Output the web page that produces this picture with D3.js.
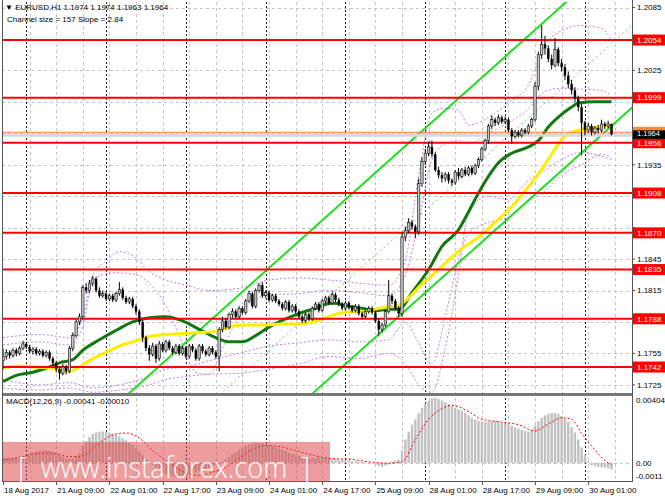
<!DOCTYPE html>
<html>
<head>
<meta charset="utf-8">
<script src="https://cdn.jsdelivr.net/npm/d3@7"></script>
<style>
html, body { margin: 0; padding: 0; background: #fff; }
svg { display: block; font-family: "Liberation Sans", Arial, sans-serif; }
</style>
</head>
<body>
<div id="chart"></div>
<script>
// EURUSD H1 candles, MAs, bands, regression channel, MACD
var headerText = "EURUSD,H1  1.1974 1.1974 1.1963 1.1964";
var channelText = "Channel size = 157 Slope = 2.84";
var macdText = "MACD(12,26,9) -0.00041 -0.00010";
var watermarkText = "[\u00A0\u00A0www.instaforex.com\u00A0\u00A0]";

var opens = [
  1.1748,1.1752,1.1756,1.1753,1.1758,1.1755,1.1760,1.1764,
  1.1761,1.1757,1.1759,1.1755,1.1757,1.1753,1.1756,1.1750,
  1.1746,1.1740,1.1736,1.1742,1.1738,1.1760,1.1772,1.1785,
  1.1790,1.1818,1.1815,1.1822,1.1826,1.1815,1.1810,1.1812,
  1.1807,1.1810,1.1806,1.1812,1.1816,1.1808,1.1804,1.1807,
  1.1800,1.1795,1.1785,1.1770,1.1760,1.1754,1.1762,1.1750,
  1.1764,1.1758,1.1766,1.1760,1.1756,1.1762,1.1755,1.1760,
  1.1752,1.1762,1.1758,1.1750,1.1762,1.1757,1.1754,1.1760,
  1.1756,1.1752,1.1778,1.1786,1.1780,1.1792,1.1795,1.1790,
  1.1798,1.1794,1.1805,1.1812,1.1800,1.1815,1.1820,1.1810,
  1.1813,1.1806,1.1810,1.1805,1.1802,1.1798,1.1804,1.1796,
  1.1800,1.1795,1.1790,1.1786,1.1792,1.1788,1.1798,1.1802,
  1.1796,1.1805,1.1808,1.1803,1.1811,1.1806,1.1802,1.1798,
  1.1803,1.1799,1.1796,1.1800,1.1793,1.1790,1.1795,1.1798,
  1.1794,1.1786,1.1778,1.1782,1.1795,1.1810,1.1805,1.1798,
  1.1793,1.1866,1.1872,1.1880,1.1876,1.1871,1.1917,1.1938,
  1.1946,1.1952,1.1945,1.1930,1.1925,1.1922,1.1926,1.1920,
  1.1918,1.1928,1.1924,1.1930,1.1926,1.1932,1.1927,1.1934,
  1.1940,1.1950,1.1958,1.1972,1.1978,1.1975,1.1980,1.1976,
  1.1978,1.1968,1.1962,1.1966,1.1963,1.1968,1.1966,1.1972,
  1.1978,1.2010,1.2040,1.2050,1.2046,1.2036,1.2030,1.2045,
  1.2032,1.2028,1.2020,1.2012,1.2006,1.1998,1.1990,1.1975,
  1.1968,1.1972,1.1966,1.1970,1.1968,1.1974,1.1972,1.1974
];
var highs = [
  1.1760,1.1759,1.1758,1.1760,1.1760,1.1762,1.1767,1.1766,
  1.1763,1.1761,1.1761,1.1759,1.1759,1.1758,1.1758,1.1752,
  1.1748,1.1743,1.1745,1.1744,1.1762,1.1775,1.1787,1.1793,
  1.1820,1.1822,1.1825,1.1829,1.1828,1.1818,1.1815,1.1814,
  1.1812,1.1812,1.1814,1.1823,1.1818,1.1810,1.1809,1.1809,
  1.1802,1.1797,1.1787,1.1772,1.1763,1.1765,1.1764,1.1767,
  1.1766,1.1768,1.1768,1.1762,1.1764,1.1764,1.1762,1.1762,
  1.1764,1.1764,1.1760,1.1764,1.1764,1.1759,1.1762,1.1762,
  1.1758,1.1780,1.1790,1.1788,1.1794,1.1798,1.1797,1.1800,
  1.1800,1.1807,1.1815,1.1814,1.1817,1.1822,1.1823,1.1815,
  1.1815,1.1812,1.1812,1.1807,1.1804,1.1806,1.1806,1.1802,
  1.1802,1.1797,1.1792,1.1794,1.1794,1.1800,1.1804,1.1804,
  1.1807,1.1810,1.1810,1.1814,1.1813,1.1808,1.1804,1.1805,
  1.1805,1.1801,1.1802,1.1802,1.1795,1.1797,1.1800,1.1800,
  1.1796,1.1788,1.1784,1.1797,1.1825,1.1812,1.1807,1.1800,
  1.1870,1.1876,1.1884,1.1882,1.1878,1.1922,1.1942,1.1950,
  1.1957,1.1958,1.1947,1.1933,1.1928,1.1928,1.1928,1.1922,
  1.1930,1.1932,1.1932,1.1933,1.1934,1.1934,1.1936,1.1942,
  1.1952,1.1960,1.1974,1.1982,1.1980,1.1983,1.1982,1.1981,
  1.1980,1.1970,1.1968,1.1968,1.1970,1.1970,1.1974,1.1980,
  1.2014,1.2043,1.2068,1.2058,1.2049,1.2040,1.2056,1.2047,
  1.2036,1.2031,1.2024,1.2016,1.2009,1.2001,1.1993,1.1977,
  1.1975,1.1974,1.1972,1.1973,1.1978,1.1976,1.1977,1.1974
];
var lows = [
  1.1740,1.1749,1.1750,1.1751,1.1752,1.1753,1.1758,1.1759,
  1.1755,1.1754,1.1753,1.1753,1.1751,1.1751,1.1748,1.1743,
  1.1737,1.1730,1.1734,1.1735,1.1736,1.1757,1.1770,1.1782,
  1.1788,1.1812,1.1813,1.1819,1.1813,1.1808,1.1808,1.1805,
  1.1805,1.1804,1.1804,1.1810,1.1806,1.1802,1.1802,1.1798,
  1.1792,1.1782,1.1766,1.1757,1.1748,1.1752,1.1746,1.1748,
  1.1756,1.1756,1.1758,1.1754,1.1754,1.1753,1.1753,1.1750,
  1.1750,1.1756,1.1748,1.1748,1.1755,1.1752,1.1752,1.1754,
  1.1750,1.1738,1.1775,1.1778,1.1778,1.1789,1.1788,1.1788,
  1.1792,1.1792,1.1803,1.1798,1.1798,1.1813,1.1808,1.1808,
  1.1804,1.1804,1.1803,1.1800,1.1796,1.1796,1.1794,1.1794,
  1.1793,1.1788,1.1784,1.1784,1.1786,1.1786,1.1796,1.1794,
  1.1794,1.1803,1.1801,1.1801,1.1804,1.1800,1.1796,1.1796,
  1.1797,1.1794,1.1794,1.1791,1.1788,1.1788,1.1793,1.1792,
  1.1784,1.1772,1.1775,1.1780,1.1793,1.1802,1.1796,1.1790,
  1.1790,1.1862,1.1870,1.1873,1.1865,1.1868,1.1914,1.1935,
  1.1943,1.1942,1.1928,1.1922,1.1918,1.1919,1.1917,1.1915,
  1.1916,1.1921,1.1922,1.1924,1.1924,1.1925,1.1925,1.1932,
  1.1938,1.1948,1.1955,1.1969,1.1972,1.1973,1.1974,1.1974,
  1.1966,1.1955,1.1960,1.1961,1.1961,1.1964,1.1964,1.1970,
  1.1976,1.2006,1.2036,1.2040,1.2033,1.2026,1.2028,1.2029,
  1.2024,1.2016,1.2008,1.2002,1.1995,1.1986,1.1944,1.1963,
  1.1965,1.1963,1.1964,1.1965,1.1966,1.1969,1.1970,1.1963
];
var closes = [
  1.1752,1.1756,1.1753,1.1758,1.1755,1.1760,1.1764,1.1761,
  1.1757,1.1759,1.1755,1.1757,1.1753,1.1756,1.1750,1.1746,
  1.1740,1.1736,1.1742,1.1738,1.1760,1.1772,1.1785,1.1790,
  1.1818,1.1815,1.1822,1.1826,1.1815,1.1810,1.1812,1.1807,
  1.1810,1.1806,1.1812,1.1816,1.1808,1.1804,1.1807,1.1800,
  1.1795,1.1785,1.1770,1.1760,1.1754,1.1762,1.1750,1.1764,
  1.1758,1.1766,1.1760,1.1756,1.1762,1.1755,1.1760,1.1752,
  1.1762,1.1758,1.1750,1.1762,1.1757,1.1754,1.1760,1.1756,
  1.1752,1.1778,1.1786,1.1780,1.1792,1.1795,1.1790,1.1798,
  1.1794,1.1805,1.1812,1.1800,1.1815,1.1820,1.1810,1.1813,
  1.1806,1.1810,1.1805,1.1802,1.1798,1.1804,1.1796,1.1800,
  1.1795,1.1790,1.1786,1.1792,1.1788,1.1798,1.1802,1.1796,
  1.1805,1.1808,1.1803,1.1811,1.1806,1.1802,1.1798,1.1803,
  1.1799,1.1796,1.1800,1.1793,1.1790,1.1795,1.1798,1.1794,
  1.1786,1.1778,1.1782,1.1795,1.1810,1.1805,1.1798,1.1793,
  1.1866,1.1872,1.1880,1.1876,1.1871,1.1917,1.1938,1.1946,
  1.1952,1.1945,1.1930,1.1925,1.1922,1.1926,1.1920,1.1918,
  1.1928,1.1924,1.1930,1.1926,1.1932,1.1927,1.1934,1.1940,
  1.1950,1.1958,1.1972,1.1978,1.1975,1.1980,1.1976,1.1978,
  1.1968,1.1962,1.1966,1.1963,1.1968,1.1966,1.1972,1.1978,
  1.2010,1.2040,1.2050,1.2046,1.2036,1.2030,1.2045,1.2032,
  1.2028,1.2020,1.2012,1.2006,1.1998,1.1990,1.1975,1.1968,
  1.1972,1.1966,1.1970,1.1968,1.1974,1.1972,1.1974,1.1964
];

// moving averages: [bar, price]
var maGreen = [[0,1.1728],[4,1.1734],[9,1.1737],[14,1.1742],[17,1.1746],[21,1.1749],[24,1.1758],[29,1.1768],
  [34,1.1777],[39,1.1785],[44,1.1789],[49,1.1790],[54,1.1786],[59,1.1778],[64,1.1770],[68,1.1766],[72,1.1766],
  [76,1.1772],[81,1.1782],[85,1.1788],[89,1.1793],[94,1.1798],[99,1.1803],[104,1.1800],[108,1.1798],[112,1.1796],
  [116,1.1797],[119,1.1797],[123,1.1813],[128,1.1835],[132,1.1857],[137,1.1873],[140,1.1890],[143,1.1908],
  [146,1.1924],[149,1.1937],[153,1.1946],[158,1.1952],[161,1.1958],[164,1.1971],[168,1.1983],[171,1.1990],
  [173,1.1994],[178,1.1995],[183,1.1995]];
var maYellow = [[0,1.1741],[4,1.1743],[9,1.1742],[14,1.1741],[17,1.1739],[20,1.1738],[23,1.1742],[27,1.1750],
  [31,1.1756],[35,1.1762],[40,1.1767],[44,1.1771],[49,1.1773],[54,1.1774],[59,1.1775],[64,1.1776],[68,1.1780],
  [72,1.1782],[78,1.1782],[84,1.1783],[90,1.1783],[93,1.1785],[97,1.1789],[101,1.1793],[105,1.1795],[109,1.1795],
  [113,1.1798],[119,1.1801],[122,1.1808],[125,1.1818],[130,1.1832],[134,1.1844],[138,1.1855],[143,1.1866],
  [148,1.1880],[153,1.1895],[158,1.1914],[161,1.1926],[164,1.1940],[168,1.1959],[171,1.1966],[177,1.1970],
  [183,1.1973]];

// band lines (violet dotted)
var bandUpperOuter = [[0,1.1770],[11,1.1773],[20,1.1770],[24,1.1790],[27,1.1830],[31,1.1843],[35,1.1852],[40,1.1846],
  [44,1.1833],[49,1.1825],[55,1.1820],[62,1.1815],[71,1.1817],[80,1.1825],[89,1.1827],[98,1.1825],[107,1.1822],
  [116,1.1820],[121,1.1844],[125,1.1925],[129,1.1984],[133,1.1989],[137,1.1987],[140,1.1973],[146,1.1980],
  [152,1.1994],[158,1.2011],[163,1.2049],[168,1.2063],[174,1.2068],[180,1.2065],[183,1.2054]];
var bandUpperInner = [[0,1.1763],[11,1.1766],[20,1.1763],[24,1.1780],[27,1.1825],[33,1.1832],[40,1.1830],[44,1.1822],
  [49,1.1800],[53,1.1772],[58,1.1737],[62,1.1735],[66,1.1760],[71,1.1790],[80,1.1811],[89,1.1812],[98,1.1815],
  [107,1.1813],[116,1.1810],[121,1.1830],[125,1.1880],[129,1.1940],[133,1.1955],[137,1.1958],[140,1.1955],
  [146,1.1965],[152,1.1975],[158,1.1988],[163,1.2005],[168,1.2008],[174,1.2007],[180,1.2006],[183,1.2001]];
var bandLowerInner = [[0,1.1730],[11,1.1725],[20,1.1727],[27,1.1722],[35,1.1725],[44,1.1733],[49,1.1740],[55,1.1742],
  [62,1.1748],[71,1.1755],[80,1.1762],[89,1.1765],[98,1.1768],[107,1.1766],[116,1.1768],[121,1.1785],[125,1.1765],
  [129,1.1745],[133,1.1790],[137,1.1845],[140,1.1870],[146,1.1880],[152,1.1885],[158,1.1900],[163,1.1910],
  [168,1.1925],[174,1.1935],[180,1.1945],[183,1.1942]];
var bandLowerOuter = [[0,1.1722],[11,1.1720],[20,1.1722],[27,1.1718],[35,1.1720],[44,1.1725],[49,1.1730],[55,1.1733],
  [62,1.1735],[71,1.1736],[80,1.1740],[89,1.1745],[98,1.1752],[107,1.1750],[116,1.1755],[121,1.1745],[125,1.1725],
  [129,1.1718],[133,1.1760],[137,1.1830],[140,1.1890],[146,1.1905],[152,1.1902],[158,1.1920],[163,1.1930],
  [168,1.1940],[174,1.1947],[180,1.1943],[183,1.1940]];

// regression channel
var channelSlopePips = 2.84;
var channelSizePips = 157;
var channelLowerAtLast = 1.1972;

var levels = [1.2054, 1.1999, 1.1956, 1.1908, 1.1870, 1.1835, 1.1788, 1.1742];
var bidPrice = 1.1964;
var askPrice = 1.1966;
var priceTicks = [1.2085, 1.2055, 1.2025, 1.1995, 1.1965, 1.1935, 1.1905, 1.1875, 1.1845, 1.1815, 1.1785, 1.1755, 1.1725];

var macdHist = [
  0.00030,0.00032,0.00028,0.00030,0.00033,0.00035,0.00040,0.00045,
  0.00055,0.00065,0.00072,0.00078,0.00082,0.00080,0.00078,0.00070,
  0.00062,0.00050,0.00040,0.00030,0.00025,0.00030,0.00045,0.00060,
  0.00110,0.00140,0.00165,0.00185,0.00195,0.00200,0.00202,0.00200,
  0.00195,0.00188,0.00180,0.00170,0.00158,0.00145,0.00130,0.00115,
  0.00095,0.00075,0.00050,0.00025,0.00005,-0.00015,-0.00030,-0.00045,
  -0.00060,-0.00072,-0.00082,-0.00088,-0.00092,-0.00090,-0.00086,-0.00080,
  -0.00074,-0.00068,-0.00062,-0.00055,-0.00048,-0.00040,-0.00032,-0.00024,
  -0.00016,-0.00006,0.00008,0.00022,0.00038,0.00055,0.00070,0.00085,
  0.00098,0.00110,0.00118,0.00125,0.00128,0.00130,0.00127,0.00122,
  0.00115,0.00108,0.00100,0.00092,0.00085,0.00076,0.00068,0.00060,
  0.00052,0.00045,0.00038,0.00032,0.00028,0.00030,0.00032,0.00033,
  0.00035,0.00033,0.00030,0.00028,0.00025,0.00022,0.00020,0.00018,
  0.00015,0.00012,0.00010,0.00008,0.00006,0.00004,0.00002,0.00000,
  -0.00010,-0.00020,-0.00025,-0.00018,-0.00010,0.00010,0.00015,0.00020,
  0.00080,0.00150,0.00200,0.00245,0.00280,0.00320,0.00355,0.00380,
  0.00400,0.00415,0.00418,0.00410,0.00400,0.00390,0.00378,0.00365,
  0.00355,0.00345,0.00335,0.00320,0.00305,0.00290,0.00278,0.00270,
  0.00265,0.00262,0.00265,0.00268,0.00268,0.00265,0.00260,0.00255,
  0.00248,0.00238,0.00228,0.00220,0.00212,0.00205,0.00200,0.00210,
  0.00240,0.00268,0.00290,0.00305,0.00315,0.00320,0.00322,0.00315,
  0.00300,0.00285,0.00262,0.00230,0.00195,0.00150,0.00100,0.00050,
  0.00010,-0.00015,-0.00022,-0.00025,-0.00028,-0.00030,-0.00035,-0.00041
];
var macdSignal = [[0,0.00020],[5,0.00035],[10,0.00060],[15,0.00062],[20,0.00040],[24,0.00045],[28,0.00110],
  [33,0.00180],[37,0.00192],[41,0.00160],[45,0.00080],[50,0.00000],[55,-0.00065],[59,-0.00080],[63,-0.00060],
  [67,-0.00030],[71,0.00030],[75,0.00085],[79,0.00110],[83,0.00105],[87,0.00085],[92,0.00055],[98,0.00030],
  [105,0.00022],[112,0.00002],[116,-0.00002],[120,0.00006],[124,0.00150],[128,0.00280],[132,0.00350],
  [135,0.00370],[140,0.00330],[144,0.00280],[150,0.00262],[155,0.00245],[160,0.00205],[164,0.00250],
  [168,0.00290],[171,0.00280],[174,0.00190],[178,0.00083],[182,0.00000],[183,-0.00010]];
var macdTicks = [0.00404, 0, -0.0011];
var macdTickLabels = ["0.00404", "0.00", "-0.0011"];

var timeLabels = ["18 Aug 2017", "21 Aug 09:00", "22 Aug 01:00", "22 Aug 17:00", "23 Aug 09:00", "24 Aug 01:00",
  "24 Aug 17:00", "25 Aug 09:00", "28 Aug 01:00", "28 Aug 17:00", "29 Aug 09:00", "30 Aug 01:00"];
var timeLabelBars = [0, 16, 32, 48, 64, 80, 96, 112, 128, 144, 160, 176];
var daySeparatorBars = [7, 31, 55, 79, 103, 127, 151, 175];

var W = 665, H = 499;
var plot = { left: 2, right: 632, top: 2, bottom: 393 };
var sub = { top: 396, bottom: 481 };

var svg = d3.select("#chart").append("svg").attr("width", W).attr("height", H);
svg.append("rect").attr("width", W).attr("height", H).attr("fill", "#fff");

var defs = svg.append("defs");
defs.append("clipPath").attr("id", "clipMain").append("rect")
    .attr("x", plot.left).attr("y", plot.top)
    .attr("width", plot.right - plot.left).attr("height", plot.bottom - plot.top);
defs.append("clipPath").attr("id", "clipSub").append("rect")
    .attr("x", plot.left).attr("y", sub.top)
    .attr("width", plot.right - plot.left).attr("height", sub.bottom - sub.top);

var x = d3.scaleLinear().domain([0, 183]).range([3, 611.5]);
var y = d3.scaleLinear().domain([1.17172, 1.20903]).range([393, 2]);
var ym = d3.scaleLinear().domain([-0.0011, 0.00404]).range([480, 400]);

// grid
var grid = svg.append("g");
grid.selectAll(".hg").data(priceTicks).enter().append("line")
    .attr("x1", plot.left).attr("x2", plot.right)
    .attr("y1", function (d) { return Math.round(y(d)) + 0.5; })
    .attr("y2", function (d) { return Math.round(y(d)) + 0.5; })
    .attr("stroke", "#c4c4c4").attr("stroke-dasharray", "3,3");
grid.selectAll(".mg").data([0]).enter().append("line")
    .attr("x1", plot.left).attr("x2", plot.right)
    .attr("y1", function (d) { return Math.round(ym(d)) + 0.5; })
    .attr("y2", function (d) { return Math.round(ym(d)) + 0.5; })
    .attr("stroke", "#c4c4c4").attr("stroke-dasharray", "3,3");
grid.selectAll(".vg").data(d3.range(8, 190, 8)).enter().append("line")
    .attr("x1", function (d) { return Math.round(x(d)) + 0.5; })
    .attr("x2", function (d) { return Math.round(x(d)) + 0.5; })
    .attr("y1", plot.top).attr("y2", sub.bottom)
    .attr("stroke", "#c4c4c4").attr("stroke-dasharray", "3,3");
grid.selectAll(".ds").data(daySeparatorBars).enter().append("line")
    .attr("x1", function (d) { return Math.round(x(d)) + 0.5; })
    .attr("x2", function (d) { return Math.round(x(d)) + 0.5; })
    .attr("y1", plot.top).attr("y2", sub.bottom)
    .attr("stroke", "#222").attr("stroke-dasharray", "2,2");

var main = svg.append("g").attr("clip-path", "url(#clipMain)");

// bands
var bandLine = d3.line()
    .x(function (d) { return x(d[0]); })
    .y(function (d) { return y(d[1]); })
    .curve(d3.curveMonotoneX);
[bandUpperOuter, bandUpperInner, bandLowerInner, bandLowerOuter].forEach(function (b) {
    main.append("path").datum(b).attr("d", bandLine)
        .attr("fill", "none").attr("stroke", "#c77de8")
        .attr("stroke-width", 1).attr("stroke-dasharray", "2,2");
});

// regression channel
var chStep = channelSlopePips * 0.0001;
var chSize = channelSizePips * 0.0001;
var chBars = [-20, 195];
function lowerAt(i) { return channelLowerAtLast - chStep * (183 - i); }
[[0, "#22dd22", 2, null], [chSize / 2, "#55dd55", 1, "2,3"], [chSize, "#22dd22", 2, null]].forEach(function (c) {
    var p = main.append("line")
        .attr("x1", x(chBars[0])).attr("x2", x(chBars[1]))
        .attr("y1", y(lowerAt(chBars[0]) + c[0])).attr("y2", y(lowerAt(chBars[1]) + c[0]))
        .attr("stroke", c[1]).attr("stroke-width", c[2]);
    if (c[3]) p.attr("stroke-dasharray", c[3]);
});

// moving averages
var maLine = d3.line()
    .x(function (d) { return x(d[0]); })
    .y(function (d) { return y(d[1]); })
    .curve(d3.curveMonotoneX);
main.append("path").datum(maGreen).attr("d", maLine)
    .attr("fill", "none").attr("stroke", "#127812").attr("stroke-width", 3);
main.append("path").datum(maYellow).attr("d", maLine)
    .attr("fill", "none").attr("stroke", "#ffee00").attr("stroke-width", 3);

// horizontal levels
main.selectAll(".lvl").data(levels).enter().append("line")
    .attr("x1", plot.left).attr("x2", plot.right)
    .attr("y1", function (d) { return y(d); }).attr("y2", function (d) { return y(d); })
    .attr("stroke", "#ff0000").attr("stroke-width", 2);
main.append("line").attr("x1", plot.left).attr("x2", plot.right)
    .attr("y1", y(bidPrice) + 1).attr("y2", y(bidPrice) + 1)
    .attr("stroke", "#d8d8d8").attr("stroke-width", 3);
main.append("line").attr("x1", plot.left).attr("x2", plot.right)
    .attr("y1", y(askPrice)).attr("y2", y(askPrice))
    .attr("stroke", "#ff7a30").attr("stroke-width", 1);

// candles
var bw = 2.4;
var candle = main.selectAll(".c").data(d3.range(closes.length)).enter().append("g");
candle.append("line")
    .attr("x1", function (i) { return x(i); }).attr("x2", function (i) { return x(i); })
    .attr("y1", function (i) { return y(highs[i]); }).attr("y2", function (i) { return y(lows[i]); })
    .attr("stroke", "#000").attr("stroke-width", 1);
candle.append("rect")
    .attr("x", function (i) { return x(i) - bw / 2; })
    .attr("y", function (i) { return y(Math.max(opens[i], closes[i])); })
    .attr("width", bw)
    .attr("height", function (i) { return Math.max(1, Math.abs(y(opens[i]) - y(closes[i]))); })
    .attr("fill", function (i) { return closes[i] >= opens[i] ? "#c4c4c4" : "#000"; })
    .attr("stroke", "#111").attr("stroke-width", function (i) { return closes[i] >= opens[i] ? 0.6 : 0; });

// MACD
var subG = svg.append("g").attr("clip-path", "url(#clipSub)");
subG.selectAll(".h").data(macdHist).enter().append("rect")
    .attr("x", function (d, i) { return x(i) - 1.2; })
    .attr("width", 2.4)
    .attr("y", function (d) { return Math.min(ym(d), ym(0)); })
    .attr("height", function (d) { return Math.abs(ym(d) - ym(0)); })
    .attr("fill", "#c0c0c0");
subG.append("path").datum(macdSignal)
    .attr("d", d3.line().x(function (d) { return x(d[0]); }).y(function (d) { return ym(d[1]); }).curve(d3.curveMonotoneX))
    .attr("fill", "none").attr("stroke", "#ff0000").attr("stroke-width", 1).attr("stroke-dasharray", "2,2");

// frames
svg.append("rect").attr("x", plot.left).attr("y", plot.bottom).attr("width", plot.right - plot.left).attr("height", 3).attr("fill", "#777");
svg.append("line").attr("x1", plot.left + 0.5).attr("x2", plot.left + 0.5).attr("y1", 0).attr("y2", sub.bottom).attr("stroke", "#555");
svg.append("line").attr("x1", plot.right + 0.5).attr("x2", plot.right + 0.5).attr("y1", 0).attr("y2", sub.bottom).attr("stroke", "#555");
svg.append("line").attr("x1", plot.left).attr("x2", plot.right + 1).attr("y1", sub.bottom + 0.5).attr("y2", sub.bottom + 0.5).attr("stroke", "#555");

// right price scale; plain ticks hidden behind the level labels are skipped
var labelPrices = levels.concat([bidPrice, askPrice]);
var freeTicks = priceTicks.filter(function (t) {
    return labelPrices.every(function (p) { return Math.abs(y(p) - y(t)) > 9; });
});
var axis = svg.append("g").attr("font-size", "8px");
axis.selectAll(".pt").data(freeTicks).enter().append("text")
    .attr("x", 637).attr("y", function (d) { return y(d); }).attr("dy", "0.35em")
    .attr("fill", "#000").text(function (d) { return d3.format(".4f")(d); });
axis.selectAll(".tk").data(priceTicks).enter().append("line")
    .attr("x1", plot.right).attr("x2", plot.right + 3)
    .attr("y1", function (d) { return y(d); }).attr("y2", function (d) { return y(d); })
    .attr("stroke", "#555");
var lvlLab = axis.selectAll(".ll").data(levels).enter().append("g");
lvlLab.append("rect").attr("x", 633).attr("width", 32)
    .attr("y", function (d) { return y(d) - 5.5; }).attr("height", 11).attr("fill", "#ff0000");
lvlLab.append("text").attr("x", 637).attr("y", function (d) { return y(d); }).attr("dy", "0.35em")
    .attr("fill", "#fff").text(function (d) { return d3.format(".4f")(d); });
axis.append("rect").attr("x", 633).attr("width", 32).attr("y", y(askPrice) - 5.5).attr("height", 11).attr("fill", "#ff8a3a");
axis.append("rect").attr("x", 633).attr("width", 32).attr("y", y(bidPrice) - 4).attr("height", 8.5).attr("fill", "#000");
axis.append("text").attr("x", 637).attr("y", y(bidPrice) - 0.7).attr("dy", "0.35em")
    .attr("font-size", "7.5px").attr("fill", "#fff").text(d3.format(".4f")(bidPrice));

axis.selectAll(".mt").data(macdTicks).enter().append("text")
    .attr("x", 636).attr("y", function (d) { return Math.min(ym(d), 476); }).attr("dy", "0.35em")
    .attr("fill", "#000").text(function (d, i) { return macdTickLabels[i]; });

// time axis
var tAxis = svg.append("g").attr("font-size", "8px");
tAxis.selectAll("line").data(timeLabelBars).enter().append("line")
    .attr("x1", function (d) { return Math.round(x(d)) + 0.5; })
    .attr("x2", function (d) { return Math.round(x(d)) + 0.5; })
    .attr("y1", sub.bottom).attr("y2", sub.bottom + 4).attr("stroke", "#555");
tAxis.selectAll("text").data(timeLabels).enter().append("text")
    .attr("x", function (d, i) { return x(timeLabelBars[i]) + 1; })
    .attr("y", 493).attr("fill", "#000").text(function (d) { return d; });

// headers
var hdr = svg.append("g").attr("font-size", "8px").attr("fill", "#000");
hdr.append("text").attr("x", 5).attr("y", 10).text("\u25BC " + headerText);
hdr.append("text").attr("x", 7).attr("y", 22).text(channelText);
hdr.append("text").attr("x", 6).attr("y", 404).text(macdText);

// watermark
var wm = svg.append("g");
wm.append("rect").attr("x", 3).attr("y", 442).attr("width", 327).attr("height", 40)
    .attr("fill", "rgba(220,60,60,0.5)");
wm.append("text").attr("x", 18).attr("y", 477.5)
    .attr("font-family", "'Open Sans', 'DejaVu Sans', sans-serif")
    .attr("font-weight", 300).attr("font-size", "29px").attr("fill", "#fff")
    .attr("textLength", 292).attr("lengthAdjust", "spacingAndGlyphs")
    .text(watermarkText);
</script>
</body>
</html>
